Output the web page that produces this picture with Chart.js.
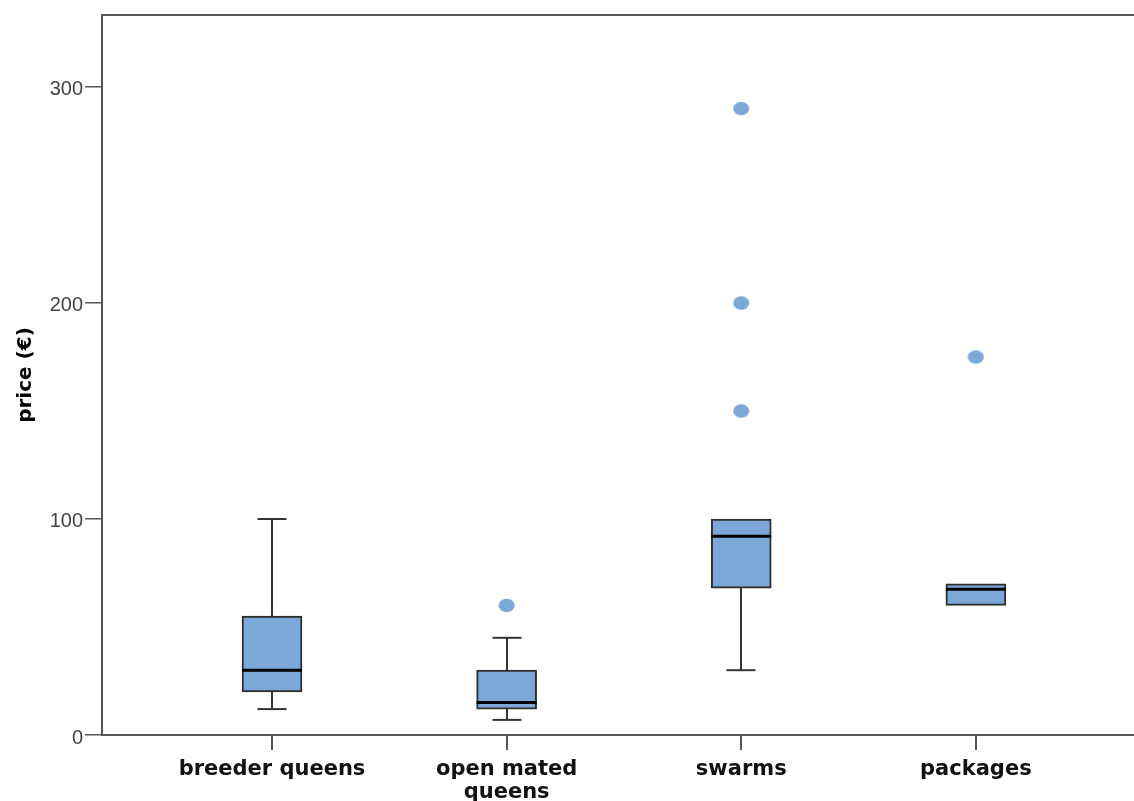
<!DOCTYPE html>
<html>
<head>
<meta charset="utf-8">
<script src="https://cdn.jsdelivr.net/npm/chart.js@4/dist/chart.umd.min.js"></script>
<style>
  html, body { margin: 0; padding: 0; background: #ffffff; }
  #wrap { width: 1134px; height: 801px; }
</style>
</head>
<body>
<div id="wrap"><canvas id="c" width="1134" height="801"></canvas></div>
<script>
// ---- data ----
const categories   = ['breeder queens', 'open mated queens', 'swarms', 'packages'];
const categoryLabels = [['breeder queens'], ['open mated', 'queens'], ['swarms'], ['packages']];
const whiskerLow   = [12, 7, 30, 60];
const q1           = [20, 12, 68, 60];
const median       = [30, 15, 92, 67.5];
const q3           = [55, 30, 100, 70];
const whiskerHigh  = [100, 45, 100, 70];
const outliers     = [[], [60], [150, 200, 290], [175]];
const yTicks       = [0, 100, 200, 300];
const yTitle       = 'price (€)';

// ---- styling ----
const FILL = '#7BA8D6';
const AXIS = '#555555';
const CAP_W = 29;

// elliptical marker for outliers
const dot = document.createElement('canvas');
dot.width = 17; dot.height = 15;
(function () {
  const g = dot.getContext('2d');
  g.fillStyle = FILL;
  g.beginPath();
  g.ellipse(8.5, 7.5, 8, 6.8, 0, 0, Math.PI * 2);
  g.fill();
})();

const boxData = categories.map((c, i) => ({ x: i, y: [q1[i], q3[i]] }));
const outlierData = [];
outliers.forEach((arr, i) => arr.forEach(v => outlierData.push({ x: i, y: v })));

const boxPlugin = {
  id: 'boxParts',
  beforeDatasetsDraw(chart) {
    const ctx = chart.ctx, xs = chart.scales.x, ys = chart.scales.y;
    ctx.save();
    ctx.strokeStyle = '#333333';
    ctx.lineWidth = 2;
    categories.forEach((c, i) => {
      const xc = Math.round(xs.getPixelForValue(i));
      const seg = (a, b) => {
        if (a === b) return;
        const ya = ys.getPixelForValue(a), yb = ys.getPixelForValue(b);
        ctx.beginPath(); ctx.moveTo(xc, ya); ctx.lineTo(xc, yb); ctx.stroke();
        ctx.beginPath(); ctx.moveTo(xc - CAP_W / 2, yb); ctx.lineTo(xc + CAP_W / 2, yb); ctx.stroke();
      };
      seg(q3[i], whiskerHigh[i]);
      seg(q1[i], whiskerLow[i]);
    });
    ctx.restore();
  },
  afterDatasetsDraw(chart) {
    const ctx = chart.ctx, ys = chart.scales.y;
    const meta = chart.getDatasetMeta(0);
    ctx.save();
    ctx.strokeStyle = '#000000';
    ctx.lineWidth = 3;
    categories.forEach((c, i) => {
      const el = meta.data[i];
      const y = ys.getPixelForValue(median[i]);
      ctx.beginPath();
      ctx.moveTo(el.x - el.width / 2, y);
      ctx.lineTo(el.x + el.width / 2, y);
      ctx.stroke();
    });
    ctx.restore();
  },
  afterDraw(chart) {
    const ctx = chart.ctx, a = chart.chartArea;
    ctx.save();
    ctx.strokeStyle = AXIS;
    ctx.lineWidth = 2;
    ctx.beginPath();
    ctx.moveTo(a.left - 1, a.top);
    ctx.lineTo(chart.width, a.top);
    ctx.stroke();
    ctx.restore();
  }
};

new Chart(document.getElementById('c'), {
  type: 'bar',
  data: {
    datasets: [
      {
        type: 'bar',
        data: boxData,
        backgroundColor: FILL,
        borderColor: '#2e2e2e',
        borderWidth: 2,
        borderSkipped: false,
        barThickness: 60,
        order: 2
      },
      {
        type: 'scatter',
        data: outlierData,
        pointStyle: dot,
        pointRadius: 8,
        pointHoverRadius: 8,
        showLine: false,
        order: 1
      }
    ]
  },
  options: {
    responsive: false,
    animation: false,
    layout: { autoPadding: false, padding: { top: 15, right: 0, bottom: 0, left: 0 } },
    plugins: { legend: { display: false }, tooltip: { enabled: false } },
    scales: {
      x: {
        type: 'linear',
        offset: false,
        min: -0.7246,
        max: 3.674,
        afterBuildTicks: s => { s.ticks = categories.map((c, i) => ({ value: i })); },
        afterFit: s => { s.height = 66; s.paddingRight = 0; s.paddingLeft = 0; },
        grid: { offset: false, drawOnChartArea: false, drawTicks: true, tickLength: 15, color: AXIS, lineWidth: 2 },
        border: { display: true, color: AXIS, width: 2 },
        ticks: {
          autoSkip: false, maxRotation: 0, minRotation: 0, padding: 8,
          color: '#111111',
          font: { family: 'DejaVu Sans', weight: 'bold', size: 21, lineHeight: 1.1 },
          callback: v => categoryLabels[v]
        }
      },
      y: {
        type: 'linear',
        min: 0,
        max: 333.3,
        afterBuildTicks: s => { s.ticks = yTicks.map(v => ({ value: v })); },
        afterFit: s => { s.width = 102; },
        grid: { drawOnChartArea: false, drawTicks: true, tickLength: 17, color: AXIS, lineWidth: 1.5 },
        border: { display: true, color: AXIS, width: 2 },
        ticks: {
          padding: 2,
          labelOffset: 3,
          color: '#444444',
          font: { family: 'Liberation Sans', size: 20 }
        },
        title: {
          display: true,
          text: yTitle,
          color: '#000000',
          padding: { top: 14, bottom: 0 },
          font: { family: 'DejaVu Sans', weight: 'bold', size: 20, lineHeight: 1.2 }
        }
      }
    }
  },
  plugins: [boxPlugin]
});
</script>
</body>
</html>
